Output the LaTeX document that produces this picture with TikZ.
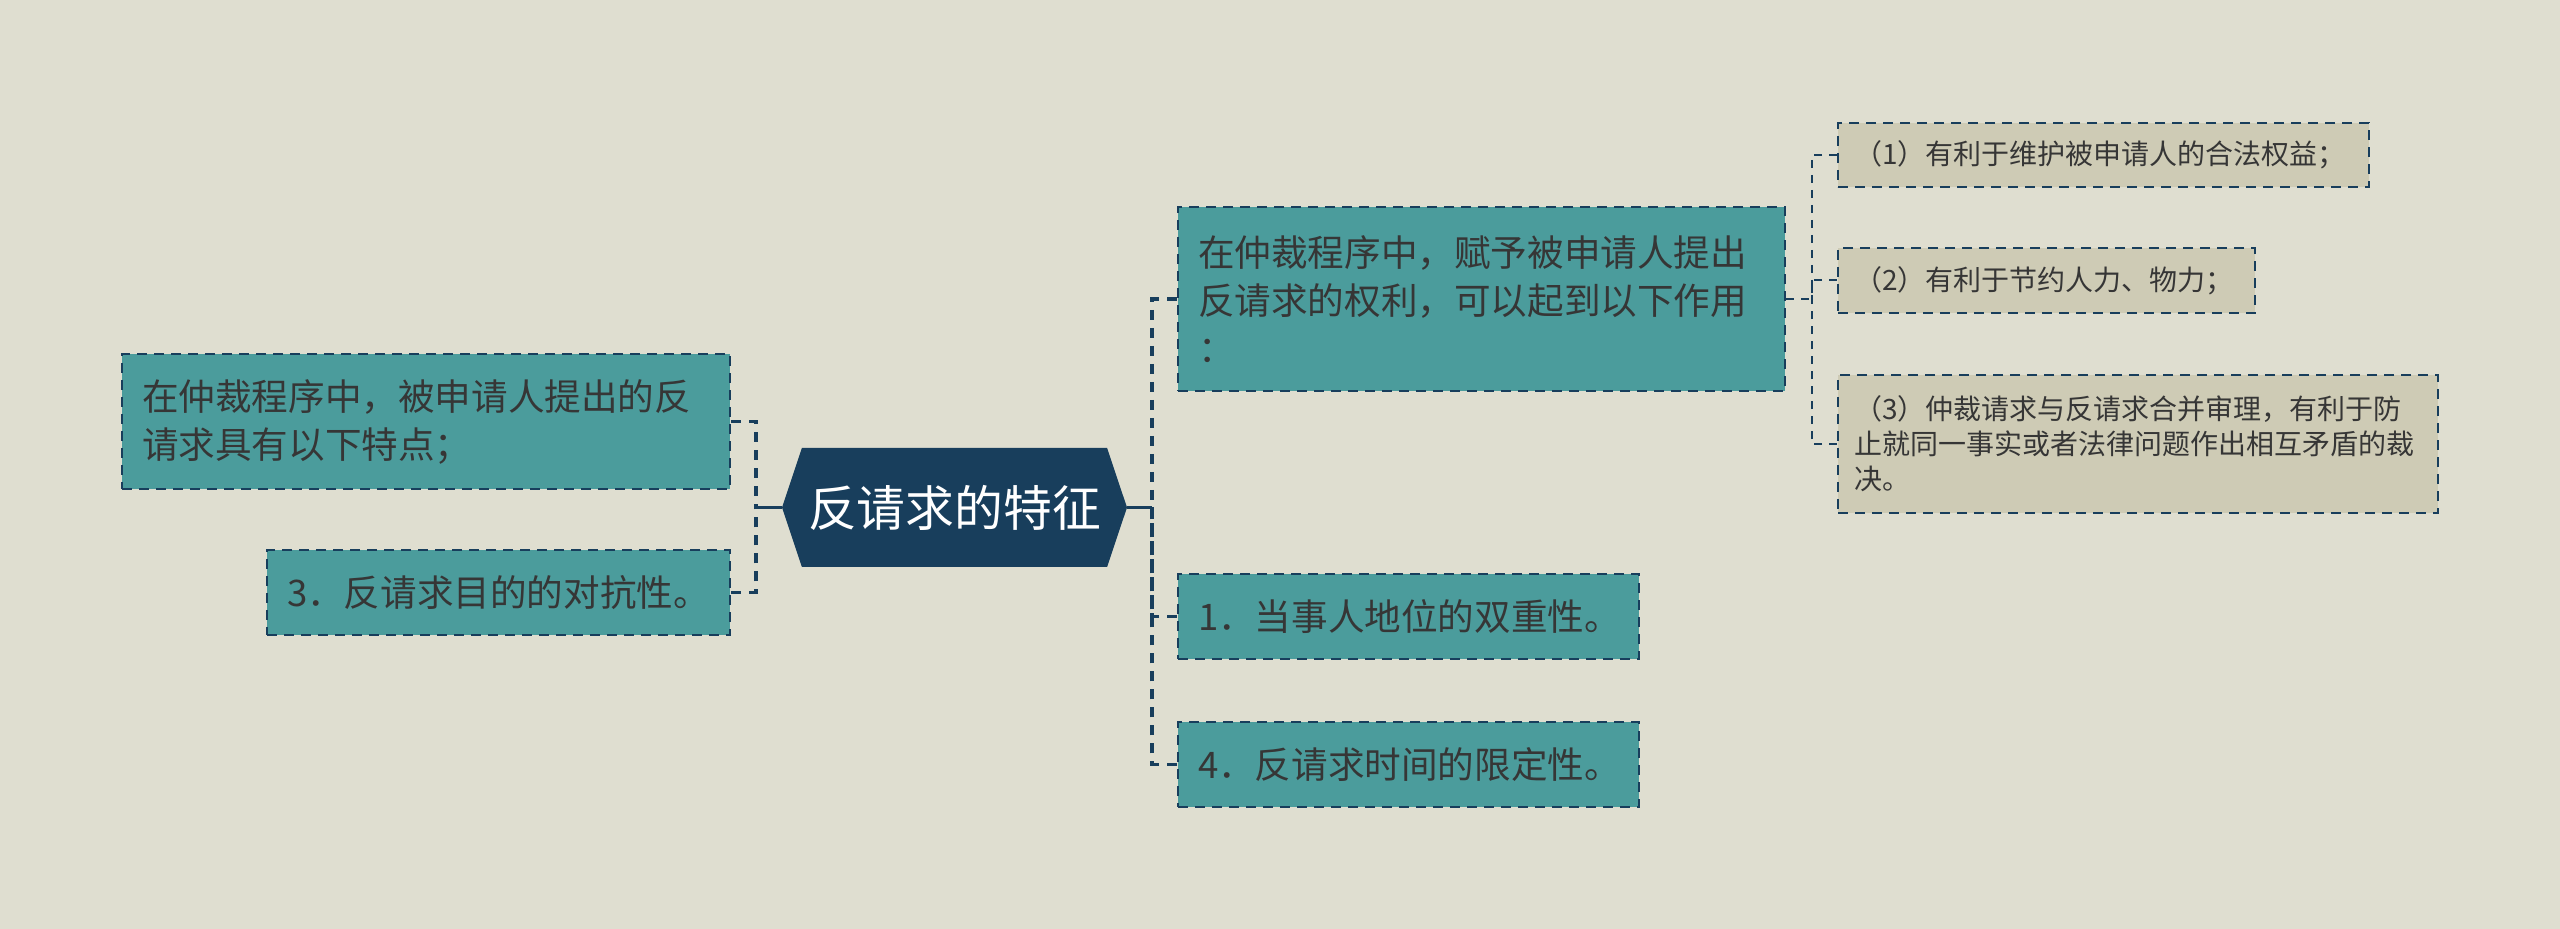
\documentclass[tikz,border=0pt]{standalone}
\usepackage{fontspec}
\setmainfont{Noto Sans CJK SC}
\usetikzlibrary{shapes.symbols}
\definecolor{bgcol}{HTML}{DFDED0}
\definecolor{branchcol}{HTML}{4B9C9C}
\definecolor{navycol}{HTML}{183E5C}
\definecolor{leafcol}{HTML}{CECBB5}
\definecolor{txtcol}{HTML}{363636}

\begin{document}
\begin{tikzpicture}[x=0.5pt, y=-0.5pt,
topic/.style={signal, signal to=west and east, signal pointer angle=143, fill=navycol, text=white, inner sep=0pt, minimum width=172.5pt, minimum height=59.5pt, font=\fontsize{24.4}{30}\selectfont},
branch/.style={draw=navycol, fill=branchcol, line width=1pt, dash pattern=on 5pt off 3.5pt, text=txtcol, align=left, inner xsep=10pt, inner ysep=0pt, font=\fontsize{18.3}{24}\selectfont},
leaf/.style={draw=navycol, fill=leafcol, line width=0.8pt, dash pattern=on 5pt off 3.5pt, text=txtcol, align=left, inner xsep=8pt, inner ysep=0pt, font=\fontsize{14}{17.5}\selectfont},
link/.style={draw=navycol, line width=1.6pt, dash pattern=on 5pt off 4pt},
thinlink/.style={draw=navycol, line width=1pt, dash pattern=on 4pt off 3.5pt}]

\fill[bgcol] (0,0) rectangle (2560,929);
\useasboundingbox (0,0) rectangle (2560,929);

% centre
\node[topic] (hex) at (954.5,507.5) {反请求的特征};

% left side
\node[branch, text width=284pt, minimum width=304pt, minimum height=67.5pt] (lt) at (426,421.5) {在仲裁程序中，被申请人提出的反\\请求具有以下特点；};
\node[branch, text width=211.5pt, minimum width=231.5pt, minimum height=42.5pt] (lb) at (498.5,592.5) {3．反请求目的的对抗性。};

% right side
\node[branch, text width=283.5pt, minimum width=303.5pt, minimum height=92pt] (r1) at (1481.5,299) {在仲裁程序中，赋予被申请人提出\\反请求的权利，可以起到以下作用\\：};
\node[branch, text width=210.5pt, minimum width=230.5pt, minimum height=42.5pt] (r2) at (1408.5,616.5) {1．当事人地位的双重性。};
\node[branch, text width=210.5pt, minimum width=230.5pt, minimum height=42.5pt] (r3) at (1408.5,764.5) {4．反请求时间的限定性。};

% leaves of r1
\node[leaf, text width=249.5pt, minimum width=265.5pt, minimum height=32pt] (c1) at (2103.5,155) {（1）有利于维护被申请人的合法权益；};
\node[leaf, text width=192.5pt, minimum width=208.5pt, minimum height=32.5pt] (c2) at (2046.5,280.5) {（2）有利于节约人力、物力；};
\node[leaf, text width=284pt, minimum width=300pt, minimum height=69pt] (c3) at (2138,444) {（3）仲裁请求与反请求合并审理，有利于防\\止就同一事实或者法律问题作出相互矛盾的裁\\决。};

% connectors
\coordinate (lj) at (756,507.5);
\coordinate (rj) at (1152,507.5);
\coordinate (sj) at (1812,299);
\draw[navycol, line width=1.6pt] (hex.west) -- (lj);
\draw[navycol, line width=1.6pt] (hex.east) -- (rj);
\draw[link] (lt.east) -| (lj);
\draw[link] (lb.east) -| (lj);
\draw[link] (r1.west) -| (rj);
\draw[link] (r2.west) -| (rj);
\draw[link] (r3.west) -| (rj);
\draw[thinlink] (r1.east) -- (sj);
\draw[thinlink] (c1.west) -| (sj);
\draw[thinlink] (c2.west) -| (sj);
\draw[thinlink] (c3.west) -| (sj);
\end{tikzpicture}
\end{document}
